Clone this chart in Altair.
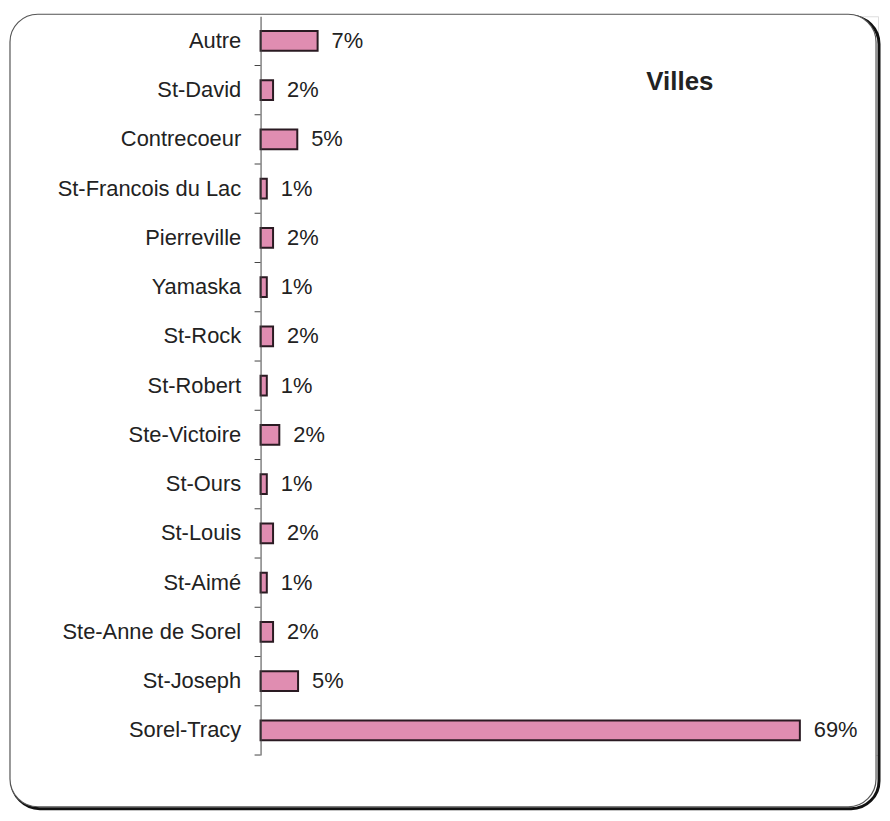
import altair as alt
import pandas as pd

cities = ["Autre", "St-David", "Contrecoeur", "St-Francois du Lac", "Pierreville",
          "Yamaska", "St-Rock", "St-Robert", "Ste-Victoire", "St-Ours", "St-Louis",
          "St-Aimé", "Ste-Anne de Sorel", "St-Joseph", "Sorel-Tracy"]
values = [7.3, 1.6, 4.7, 0.8, 1.6, 0.8, 1.6, 0.8, 2.4, 0.8, 1.6, 0.8, 1.6, 4.8, 69.0]
labels = ["7%", "2%", "5%", "1%", "2%", "1%", "2%", "1%", "2%", "1%", "2%", "1%", "2%", "5%", "69%"]

df = pd.DataFrame({"ville": cities, "valeur": values, "label": labels})

FONT = "Liberation Sans"
H = 743
HALF_STEP = H / len(cities) / 2

one = alt.Data(values=[{"a": 1}])

shadow = alt.Chart(one).mark_rect(
    cornerRadius=28, fill=None, fillOpacity=0, stroke="#111111", strokeWidth=3
).encode(x=alt.value(-250), x2=alt.value(622), y=alt.value(0), y2=alt.value(797))

frame = alt.Chart(one).mark_rect(
    cornerRadius=28, fill="white", stroke="#555555", strokeWidth=1.2
).encode(x=alt.value(-252), x2=alt.value(619), y=alt.value(-2), y2=alt.value(795))

yscale = alt.Scale(paddingInner=0.6, paddingOuter=0.3)
yenc = alt.Y("ville:N", sort=cities, title=None, scale=yscale,
             axis=alt.Axis(labelFont=FONT, labelFontSize=22, labelColor="#222222",
                           domainColor="#444444", ticks=False, labelPadding=20,
                           labelLimit=400, zindex=1))
xenc = alt.X("valeur:Q", scale=alt.Scale(domain=[0, 79], nice=False), axis=None)

# small ticks at band boundaries on the left of the axis
ticks = alt.Chart(df[df.ville != cities[0]]).mark_rule(
    color="#444444", strokeWidth=1, yOffset=-HALF_STEP
).encode(y=alt.Y("ville:N", sort=cities, scale=yscale, title=None),
         x=alt.value(-6), x2=alt.value(0))
tick_end = alt.Chart(df[df.ville == cities[-1]]).mark_rule(
    color="#444444", strokeWidth=1, yOffset=HALF_STEP
).encode(y=alt.Y("ville:N", sort=cities, scale=yscale, title=None),
         x=alt.value(-6), x2=alt.value(0))

bars = alt.Chart(df).mark_bar(
    color="#e08db1", stroke="#2a1a22", strokeWidth=2
).encode(x=xenc, y=yenc)

texts = alt.Chart(df).mark_text(
    align="left", baseline="middle", dx=14, font=FONT, fontSize=22, color="#222222"
).encode(x=xenc, y=yenc, text="label:N")

title = alt.Chart(one).mark_text(
    align="left", baseline="middle", font=FONT, fontSize=26, fontWeight="bold", color="#222222"
).encode(x=alt.value(388), y=alt.value(66), text=alt.value("Villes"))

chart = alt.layer(shadow, frame, ticks, tick_end, bars, texts, title).properties(
    width=621, height=H,
    autosize=alt.AutoSizeParams(type="none"),
    padding={"left": 254, "top": 6, "right": 4, "bottom": 56},
).configure_view(stroke=None).configure(background="white")

chart.save("out.html", embed_options={"renderer": "svg", "actions": False})
